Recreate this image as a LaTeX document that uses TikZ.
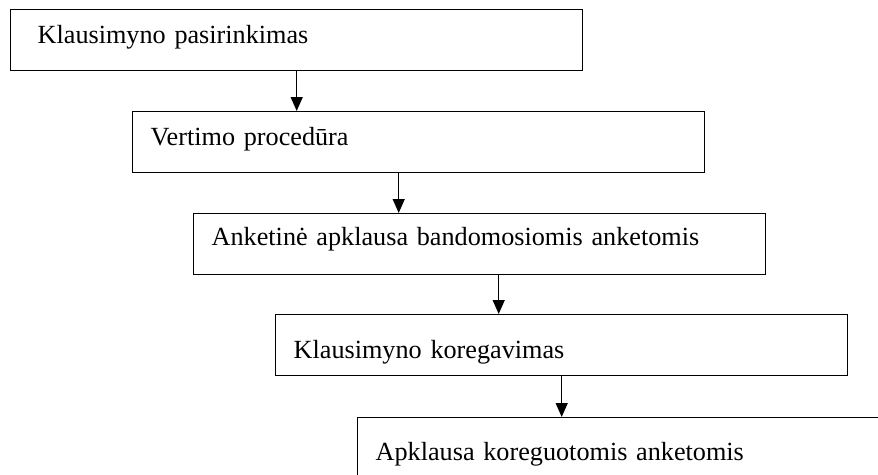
\documentclass[tikz,border=0pt]{standalone}
\usepackage{fontspec}
\setmainfont{Liberation Serif}
\usetikzlibrary{arrows.meta, positioning, calc}

\begin{document}
\begin{tikzpicture}[>={Triangle[width=12pt,length=14pt]}, x=1pt, y=-1pt,
  box/.style={draw, line width=1.4pt, anchor=north west, inner xsep=18pt, inner ysep=0pt,
    text width=536pt, align=left, font=\fontsize{26.2}{30}\selectfont,
    text height=34pt, text depth=27pt},
  flow/.style={->, line width=1.3pt}]
\clip (0,0) rectangle (878,474);
% the five steps, each shifted to the right
\node[box, inner xsep=27pt, text width=518pt] (sel) at (10,9) {Klausimyno pasirinkimas};
\node[box] (trans) at (132,111) {Vertimo procedūra};
\node[box, text height=32pt, text depth=29pt] (pilot) at (193,213) {Anketinė apklausa bandomosiomis anketomis};
\node[box, text height=44pt, text depth=17pt] (corr) at (275,314) {Klausimyno koregavimas};
\node[box, text height=43pt, text depth=18pt] (final) at (357,417) {Apklausa koreguotomis anketomis};
% arrows between the steps
\coordinate (s2) at ([xshift=-20pt]trans.south);
\coordinate (s3) at ([xshift=19pt]pilot.south);
\draw[flow] (sel.south) -- (sel.south |- trans.north);
\draw[flow] (s2) -- (s2 |- pilot.north);
\draw[flow] (s3) -- (s3 |- corr.north);
\draw[flow] (corr.south) -- (corr.south |- final.north);
\end{tikzpicture}
\end{document}
